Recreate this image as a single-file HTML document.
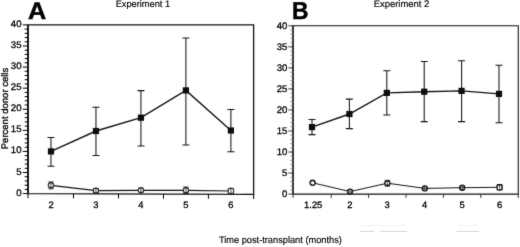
<!DOCTYPE html><html><head><meta charset="utf-8"><title>Figure</title>
<style>html,body{margin:0;padding:0;background:#fff;overflow:hidden}svg{display:block}text{text-rendering:geometricPrecision;font-family:"Liberation Sans",Arial,Helvetica,sans-serif;fill:#000;stroke:#000;stroke-width:0.3px}</style></head><body>
<svg width="520" height="247" viewBox="0 0 520 247">
<defs><filter id="soft" x="0" y="0" width="100%" height="100%" filterUnits="userSpaceOnUse"><feConvolveMatrix order="3" kernelMatrix="0.015 0.065 0.015 0.065 0.68 0.065 0.015 0.065 0.015" edgeMode="duplicate" preserveAlpha="false"/></filter></defs>
<rect width="520" height="247" fill="#fff"/>
<g filter="url(#soft)">
<g stroke="#151515" stroke-width="1.3" fill="none">
<path d="M28.0 24.90H253.6V194.40L28.0 193.60Z"/>
<line x1="28.0" y1="24.90" x2="28.0" y2="193.60" stroke-width="1.8"/>
</g>
<g stroke="#000" stroke-width="1" fill="none">
<line x1="22.80" y1="193.60" x2="28.0" y2="193.60" stroke="#000"/>
<line x1="24.70" y1="189.38" x2="28.0" y2="189.38" stroke="#000"/>
<line x1="24.70" y1="185.16" x2="28.0" y2="185.16" stroke="#000"/>
<line x1="24.70" y1="180.95" x2="28.0" y2="180.95" stroke="#000"/>
<line x1="24.70" y1="176.73" x2="28.0" y2="176.73" stroke="#000"/>
<line x1="22.80" y1="172.51" x2="28.0" y2="172.51" stroke="#000"/>
<line x1="24.70" y1="168.29" x2="28.0" y2="168.29" stroke="#000"/>
<line x1="24.70" y1="164.08" x2="28.0" y2="164.08" stroke="#000"/>
<line x1="24.70" y1="159.86" x2="28.0" y2="159.86" stroke="#000"/>
<line x1="24.70" y1="155.64" x2="28.0" y2="155.64" stroke="#000"/>
<line x1="22.80" y1="151.43" x2="28.0" y2="151.43" stroke="#000"/>
<line x1="24.70" y1="147.21" x2="28.0" y2="147.21" stroke="#000"/>
<line x1="24.70" y1="142.99" x2="28.0" y2="142.99" stroke="#000"/>
<line x1="24.70" y1="138.77" x2="28.0" y2="138.77" stroke="#000"/>
<line x1="24.70" y1="134.56" x2="28.0" y2="134.56" stroke="#000"/>
<line x1="22.80" y1="130.34" x2="28.0" y2="130.34" stroke="#000"/>
<line x1="24.70" y1="126.12" x2="28.0" y2="126.12" stroke="#000"/>
<line x1="24.70" y1="121.90" x2="28.0" y2="121.90" stroke="#000"/>
<line x1="24.70" y1="117.69" x2="28.0" y2="117.69" stroke="#000"/>
<line x1="24.70" y1="113.47" x2="28.0" y2="113.47" stroke="#000"/>
<line x1="22.80" y1="109.25" x2="28.0" y2="109.25" stroke="#000"/>
<line x1="24.70" y1="105.03" x2="28.0" y2="105.03" stroke="#000"/>
<line x1="24.70" y1="100.82" x2="28.0" y2="100.82" stroke="#000"/>
<line x1="24.70" y1="96.60" x2="28.0" y2="96.60" stroke="#000"/>
<line x1="24.70" y1="92.38" x2="28.0" y2="92.38" stroke="#000"/>
<line x1="22.80" y1="88.16" x2="28.0" y2="88.16" stroke="#000"/>
<line x1="24.70" y1="83.95" x2="28.0" y2="83.95" stroke="#000"/>
<line x1="24.70" y1="79.73" x2="28.0" y2="79.73" stroke="#000"/>
<line x1="24.70" y1="75.51" x2="28.0" y2="75.51" stroke="#000"/>
<line x1="24.70" y1="71.29" x2="28.0" y2="71.29" stroke="#000"/>
<line x1="22.80" y1="67.08" x2="28.0" y2="67.08" stroke="#000"/>
<line x1="24.70" y1="62.86" x2="28.0" y2="62.86" stroke="#000"/>
<line x1="24.70" y1="58.64" x2="28.0" y2="58.64" stroke="#000"/>
<line x1="24.70" y1="54.42" x2="28.0" y2="54.42" stroke="#000"/>
<line x1="24.70" y1="50.21" x2="28.0" y2="50.21" stroke="#000"/>
<line x1="22.80" y1="45.99" x2="28.0" y2="45.99" stroke="#000"/>
<line x1="24.70" y1="41.77" x2="28.0" y2="41.77" stroke="#000"/>
<line x1="24.70" y1="37.55" x2="28.0" y2="37.55" stroke="#000"/>
<line x1="24.70" y1="33.34" x2="28.0" y2="33.34" stroke="#000"/>
<line x1="24.70" y1="29.12" x2="28.0" y2="29.12" stroke="#000"/>
<line x1="22.80" y1="24.90" x2="28.0" y2="24.90" stroke="#000"/>
<line x1="28.00" y1="193.60" x2="28.00" y2="198.20"/>
<line x1="73.48" y1="193.76" x2="73.48" y2="198.36"/>
<line x1="118.46" y1="193.92" x2="118.46" y2="198.52"/>
<line x1="163.44" y1="194.08" x2="163.44" y2="198.68"/>
<line x1="208.42" y1="194.24" x2="208.42" y2="198.84"/>
<line x1="253.60" y1="194.40" x2="253.60" y2="199.00"/>
</g>
<text x="21.50" y="195.60" font-size="9.6" text-anchor="end">0</text>
<text x="21.50" y="174.51" font-size="9.6" text-anchor="end">5</text>
<text x="21.50" y="153.43" font-size="9.6" text-anchor="end">10</text>
<text x="21.50" y="132.34" font-size="9.6" text-anchor="end">15</text>
<text x="21.50" y="111.25" font-size="9.6" text-anchor="end">20</text>
<text x="21.50" y="90.16" font-size="9.6" text-anchor="end">25</text>
<text x="21.50" y="69.08" font-size="9.6" text-anchor="end">30</text>
<text x="21.50" y="47.99" font-size="9.6" text-anchor="end">35</text>
<text x="21.50" y="26.90" font-size="9.6" text-anchor="end">40</text>
<text x="50.99" y="208.2" font-size="9.4" text-anchor="middle">2</text>
<text x="95.97" y="208.2" font-size="9.4" text-anchor="middle">3</text>
<text x="140.95" y="208.2" font-size="9.4" text-anchor="middle">4</text>
<text x="185.93" y="208.2" font-size="9.4" text-anchor="middle">5</text>
<text x="230.91" y="208.2" font-size="9.4" text-anchor="middle">6</text>
<g stroke="#151515" stroke-width="1.05" fill="none">
<path d="M50.99 137.40V166.30M47.49 137.40h7M47.49 166.30h7"/>
<path d="M95.97 107.30V155.40M92.47 107.30h7M92.47 155.40h7"/>
<path d="M140.95 90.60V145.90M137.45 90.60h7M137.45 145.90h7"/>
<path d="M185.93 38.00V144.90M182.43 38.00h7M182.43 144.90h7"/>
<path d="M230.91 109.40V151.70M227.41 109.40h7M227.41 151.70h7"/>
<polyline points="50.99,151.40 95.97,131.00 140.95,117.70 185.93,90.40 230.91,130.50" stroke-width="1.4"/>
<polyline points="50.99,185.30 95.97,190.60 140.95,190.30 185.93,190.30 230.91,191.00" stroke-width="1.2"/>
</g>
<rect x="47.89" y="148.30" width="6.2" height="6.2" fill="#0c0c0c"/>
<rect x="92.87" y="127.90" width="6.2" height="6.2" fill="#0c0c0c"/>
<rect x="137.85" y="114.60" width="6.2" height="6.2" fill="#0c0c0c"/>
<rect x="182.83" y="87.30" width="6.2" height="6.2" fill="#0c0c0c"/>
<rect x="227.81" y="127.40" width="6.2" height="6.2" fill="#0c0c0c"/>
<circle cx="50.99" cy="185.30" r="2.6" fill="#fff" stroke="#151515" stroke-width="1.25"/>
<path d="M50.99 181.90V188.80M48.29 181.90h5.4M48.29 188.80h5.4" stroke="#151515" stroke-width="0.8" fill="none"/>
<circle cx="95.97" cy="190.60" r="2.6" fill="#fff" stroke="#151515" stroke-width="1.25"/>
<path d="M95.97 188.50V192.70M93.27 188.50h5.4M93.27 192.70h5.4" stroke="#151515" stroke-width="0.8" fill="none"/>
<circle cx="140.95" cy="190.30" r="2.6" fill="#fff" stroke="#151515" stroke-width="1.25"/>
<path d="M140.95 187.80V192.80" stroke="#151515" stroke-width="0.9" fill="none"/>
<circle cx="185.93" cy="190.30" r="2.6" fill="#fff" stroke="#151515" stroke-width="1.25"/>
<path d="M185.93 187.00V193.50M183.23 187.00h5.4M183.23 193.50h5.4" stroke="#151515" stroke-width="0.8" fill="none"/>
<rect x="228.31" y="188.40" width="5.2" height="5.2" rx="1" fill="#fff" stroke="#151515" stroke-width="1.25"/>
<path d="M230.91 188.60V193.30M228.21 188.60h5.4M228.21 193.30h5.4" stroke="#151515" stroke-width="0.8" fill="none"/>
<text transform="translate(28.1,19.1) scale(1.05,1.0)" font-size="24" font-weight="bold" style="stroke-width:0.5px">A</text>
<text x="142.9" y="7.3" font-size="9.5" style="stroke-width:0.15px" text-anchor="middle" textLength="54.5" lengthAdjust="spacingAndGlyphs">Experiment 1</text>
<g stroke="#151515" stroke-width="1.1" fill="none">
<path d="M293.0 25.80H518.3V194.10L293.0 194.10Z"/>
<line x1="293.0" y1="25.80" x2="293.0" y2="194.10" stroke-width="1.4"/>
</g>
<g stroke="#333" stroke-width="1" fill="none">
<line x1="288.40" y1="194.10" x2="293.0" y2="194.10" stroke="#333"/>
<line x1="290.60" y1="189.89" x2="293.0" y2="189.89" stroke="#777"/>
<line x1="290.60" y1="185.69" x2="293.0" y2="185.69" stroke="#777"/>
<line x1="290.60" y1="181.48" x2="293.0" y2="181.48" stroke="#777"/>
<line x1="290.60" y1="177.27" x2="293.0" y2="177.27" stroke="#777"/>
<line x1="288.40" y1="173.06" x2="293.0" y2="173.06" stroke="#333"/>
<line x1="290.60" y1="168.85" x2="293.0" y2="168.85" stroke="#777"/>
<line x1="290.60" y1="164.65" x2="293.0" y2="164.65" stroke="#777"/>
<line x1="290.60" y1="160.44" x2="293.0" y2="160.44" stroke="#777"/>
<line x1="290.60" y1="156.23" x2="293.0" y2="156.23" stroke="#777"/>
<line x1="288.40" y1="152.03" x2="293.0" y2="152.03" stroke="#333"/>
<line x1="290.60" y1="147.82" x2="293.0" y2="147.82" stroke="#777"/>
<line x1="290.60" y1="143.61" x2="293.0" y2="143.61" stroke="#777"/>
<line x1="290.60" y1="139.40" x2="293.0" y2="139.40" stroke="#777"/>
<line x1="290.60" y1="135.19" x2="293.0" y2="135.19" stroke="#777"/>
<line x1="288.40" y1="130.99" x2="293.0" y2="130.99" stroke="#333"/>
<line x1="290.60" y1="126.78" x2="293.0" y2="126.78" stroke="#777"/>
<line x1="290.60" y1="122.57" x2="293.0" y2="122.57" stroke="#777"/>
<line x1="290.60" y1="118.37" x2="293.0" y2="118.37" stroke="#777"/>
<line x1="290.60" y1="114.16" x2="293.0" y2="114.16" stroke="#777"/>
<line x1="288.40" y1="109.95" x2="293.0" y2="109.95" stroke="#333"/>
<line x1="290.60" y1="105.74" x2="293.0" y2="105.74" stroke="#777"/>
<line x1="290.60" y1="101.53" x2="293.0" y2="101.53" stroke="#777"/>
<line x1="290.60" y1="97.33" x2="293.0" y2="97.33" stroke="#777"/>
<line x1="290.60" y1="93.12" x2="293.0" y2="93.12" stroke="#777"/>
<line x1="288.40" y1="88.91" x2="293.0" y2="88.91" stroke="#333"/>
<line x1="290.60" y1="84.71" x2="293.0" y2="84.71" stroke="#777"/>
<line x1="290.60" y1="80.50" x2="293.0" y2="80.50" stroke="#777"/>
<line x1="290.60" y1="76.29" x2="293.0" y2="76.29" stroke="#777"/>
<line x1="290.60" y1="72.08" x2="293.0" y2="72.08" stroke="#777"/>
<line x1="288.40" y1="67.88" x2="293.0" y2="67.88" stroke="#333"/>
<line x1="290.60" y1="63.67" x2="293.0" y2="63.67" stroke="#777"/>
<line x1="290.60" y1="59.46" x2="293.0" y2="59.46" stroke="#777"/>
<line x1="290.60" y1="55.25" x2="293.0" y2="55.25" stroke="#777"/>
<line x1="290.60" y1="51.05" x2="293.0" y2="51.05" stroke="#777"/>
<line x1="288.40" y1="46.84" x2="293.0" y2="46.84" stroke="#333"/>
<line x1="290.60" y1="42.63" x2="293.0" y2="42.63" stroke="#777"/>
<line x1="290.60" y1="38.42" x2="293.0" y2="38.42" stroke="#777"/>
<line x1="290.60" y1="34.22" x2="293.0" y2="34.22" stroke="#777"/>
<line x1="290.60" y1="30.01" x2="293.0" y2="30.01" stroke="#777"/>
<line x1="288.40" y1="25.80" x2="293.0" y2="25.80" stroke="#333"/>
<line x1="293.00" y1="194.10" x2="293.00" y2="197.90"/>
<line x1="331.20" y1="194.10" x2="331.20" y2="197.90"/>
<line x1="368.60" y1="194.10" x2="368.60" y2="197.90"/>
<line x1="406.00" y1="194.10" x2="406.00" y2="197.90"/>
<line x1="443.40" y1="194.10" x2="443.40" y2="197.90"/>
<line x1="480.80" y1="194.10" x2="480.80" y2="197.90"/>
<line x1="518.30" y1="194.10" x2="518.30" y2="197.90"/>
</g>
<text x="287.30" y="196.80" font-size="9.6" text-anchor="end">0</text>
<text x="287.30" y="175.76" font-size="9.6" text-anchor="end">5</text>
<text x="287.30" y="154.73" font-size="9.6" text-anchor="end">10</text>
<text x="287.30" y="133.69" font-size="9.6" text-anchor="end">15</text>
<text x="287.30" y="112.65" font-size="9.6" text-anchor="end">20</text>
<text x="287.30" y="91.61" font-size="9.6" text-anchor="end">25</text>
<text x="287.30" y="70.58" font-size="9.6" text-anchor="end">30</text>
<text x="287.30" y="49.54" font-size="9.6" text-anchor="end">35</text>
<text x="287.30" y="28.50" font-size="9.6" text-anchor="end">40</text>
<text x="313.20" y="208.2" font-size="9.4" text-anchor="middle">1.25</text>
<text x="349.90" y="208.2" font-size="9.4" text-anchor="middle">2</text>
<text x="387.20" y="208.2" font-size="9.4" text-anchor="middle">3</text>
<text x="424.60" y="208.2" font-size="9.4" text-anchor="middle">4</text>
<text x="462.00" y="208.2" font-size="9.4" text-anchor="middle">5</text>
<text x="499.60" y="208.2" font-size="9.4" text-anchor="middle">6</text>
<g stroke="#151515" stroke-width="1.05" fill="none">
<path d="M312.00 119.50V134.60M308.50 119.50h7M308.50 134.60h7"/>
<path d="M349.40 99.10V128.60M345.90 99.10h7M345.90 128.60h7"/>
<path d="M386.80 70.70V115.00M383.30 70.70h7M383.30 115.00h7"/>
<path d="M424.20 61.50V121.60M420.70 61.50h7M420.70 121.60h7"/>
<path d="M461.60 60.70V121.60M458.10 60.70h7M458.10 121.60h7"/>
<path d="M499.00 65.20V122.80M495.50 65.20h7M495.50 122.80h7"/>
<polyline points="312.00,127.10 349.40,114.00 386.80,92.90 424.20,91.70 461.60,90.90 499.00,93.90" stroke-width="1.4"/>
<polyline points="312.60,182.80 350.00,191.60 387.40,183.20 424.80,188.40 462.20,187.70 499.60,187.30" stroke-width="1.0"/>
</g>
<rect x="308.90" y="124.00" width="6.2" height="6.2" fill="#0c0c0c"/>
<rect x="346.30" y="110.90" width="6.2" height="6.2" fill="#0c0c0c"/>
<rect x="383.70" y="89.80" width="6.2" height="6.2" fill="#0c0c0c"/>
<rect x="421.10" y="88.60" width="6.2" height="6.2" fill="#0c0c0c"/>
<rect x="458.50" y="87.80" width="6.2" height="6.2" fill="#0c0c0c"/>
<rect x="495.90" y="90.80" width="6.2" height="6.2" fill="#0c0c0c"/>
<circle cx="312.60" cy="182.80" r="2.4" fill="#fff" stroke="#151515" stroke-width="1.6"/>
<circle cx="350.00" cy="191.60" r="2.4" fill="#fff" stroke="#151515" stroke-width="1.6"/>
<path d="M348.10 189.70l3.8 3.8M348.10 193.50l3.8 -3.8" stroke="#151515" stroke-width="0.8" fill="none"/>
<circle cx="387.40" cy="183.20" r="2.4" fill="#fff" stroke="#151515" stroke-width="1.6"/>
<path d="M387.40 180.40V186.00M384.70 180.40h5.4M384.70 186.00h5.4" stroke="#151515" stroke-width="0.8" fill="none"/>
<circle cx="424.80" cy="188.40" r="2.4" fill="#fff" stroke="#151515" stroke-width="1.6"/>
<path d="M424.80 186.00v4.8M422.40 188.40h4.8" stroke="#151515" stroke-width="0.8" fill="none"/>
<circle cx="462.20" cy="187.70" r="2.4" fill="#fff" stroke="#151515" stroke-width="1.6"/>
<path d="M462.20 185.30v4.8M459.80 187.70h4.8" stroke="#151515" stroke-width="0.8" fill="none"/>
<rect x="497.20" y="184.90" width="4.8" height="4.8" rx="1" fill="#fff" stroke="#151515" stroke-width="1.6"/>
<path d="M499.60 184.70V189.90M496.90 184.70h5.4M496.90 189.90h5.4" stroke="#151515" stroke-width="0.8" fill="none"/>
<text transform="translate(292.0,18.8) scale(0.95,1.02)" font-size="24" font-weight="bold" style="stroke-width:0.5px">B</text>
<text x="401.5" y="7.1" font-size="9.5" style="stroke-width:0.15px" text-anchor="middle" textLength="55.6" lengthAdjust="spacingAndGlyphs">Experiment 2</text>
<text transform="translate(7.6,108.5) rotate(-90)" font-size="9.5" style="stroke-width:0.3px" text-anchor="middle" textLength="81.5" lengthAdjust="spacingAndGlyphs">Percent donor cells</text>
<text x="280.4" y="243.2" font-size="9.5" style="stroke-width:0.15px" text-anchor="middle" textLength="123" lengthAdjust="spacingAndGlyphs">Time post-transplant (months)</text>
<g stroke="#d4d4d4" stroke-width="1" fill="none"><path d="M360 231.4h14M380.5 231.4h26.5M456.5 231.4h22.5"/><path d="M360 225.6h46M458 225.6h20" stroke="#f1f1f1"/></g>
</g>
</svg></body></html>
